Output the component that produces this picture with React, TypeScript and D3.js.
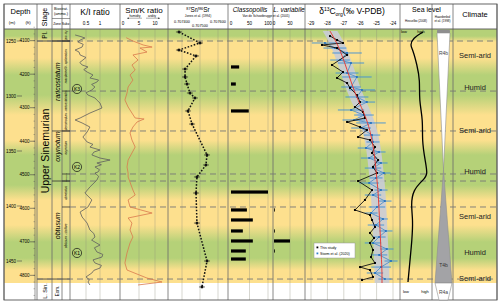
import React from 'react';
import * as d3 from 'd3';

// ---- data (depth in m) ----
const depthTicksM = [1250, 1300, 1350, 1400, 1450];
const depthTicksFt = [4100, 4200, 4300, 4400, 4500, 4600, 4700, 4800];

const kiDepth = [1244.5, 1246, 1247.3, 1249, 1250.9, 1253, 1255.5, 1258.2, 1260, 1262.7, 1265, 1267.3, 1269.5, 1271.8, 1273.6, 1276, 1278.2, 1280.9, 1283.6, 1285.5, 1287.3, 1289.5, 1291.8, 1294.5, 1297, 1299.1, 1301.8, 1304, 1306.4, 1310.9, 1315.5, 1320, 1321.8, 1324.5, 1328.2, 1332.7, 1337.3, 1341.8, 1344, 1346.4, 1349.1, 1351, 1353.6, 1356.4, 1358.2, 1360.9, 1362.5, 1364.5, 1367, 1369.1, 1370, 1373, 1376.4, 1382.7, 1388.2, 1394.5, 1400.9, 1405.5, 1410, 1415.5, 1421.8, 1425, 1428.2, 1431, 1435.5, 1438, 1441.8, 1444, 1446.4, 1449, 1451.8, 1454, 1456.4, 1458.5, 1460.9, 1464.5, 1467, 1469.1, 1471.8];
const kiValue = [0.11, 0.32, 0.46, 0.3, 0.21, 0.4, 0.36, 0.11, 0.25, 0.29, 0.5, 0.39, 0.28, 0.36, 0.57, 0.42, 0.54, 0.75, 0.64, 0.95, 0.89, 0.7, 0.82, 0.71, 0.5, 0.57, 0.82, 0.9, 1.0, 1.07, 0.64, 0.29, 0.11, 0.36, 0.64, 0.54, 0.39, 0.54, 0.75, 0.64, 1.0, 0.78, 0.71, 1.0, 1.36, 0.89, 1.05, 0.82, 0.98, 0.93, 0.82, 0.95, 0.89, 0.64, 0.46, 0.71, 0.57, 0.29, 0.36, 0.54, 0.64, 0.78, 0.82, 0.7, 1.0, 0.8, 0.89, 1.1, 1.07, 0.75, 0.82, 1.05, 1.0, 0.78, 0.71, 0.5, 0.62, 0.57, 0.64];

const smkDepth = [1247, 1250, 1253.6, 1255.5, 1256.4, 1260, 1262.7, 1267.3, 1271.8, 1276.4, 1280.9, 1285.5, 1291.8, 1297.3, 1303.6, 1310, 1315.5, 1320, 1320.9, 1323.6, 1328.2, 1333.6, 1340, 1346.4, 1351.8, 1358.2, 1364.5, 1370, 1373.6, 1385.5, 1390, 1394.5, 1400.9, 1406.4, 1410.9, 1415.5, 1421.8, 1428.2, 1433.6, 1442.7, 1451.8, 1458.2, 1465.5, 1469.1, 1471.8];
const smkValue = [1.0, 3.1, 6.3, 9.1, 5.3, 7.5, 3.1, 4.7, 2.8, 3.8, 2.2, 3.1, 1.6, 1.25, 0.6, 1.6, 2.8, 3.8, 6.6, 4.4, 3.1, 2.2, 2.8, 3.8, 2.8, 1.6, 1.25, 1.6, 1.6, 3.1, 3.8, 1.6, 2.2, 9.1, 1.6, 2.8, 2.2, 3.1, 2.2, 1.25, 0.6, 1.25, 7.5, 12.2, 4.7];

const srDepth = [1241.8, 1251.8, 1258.2, 1263.6, 1275.5, 1282.7, 1289.1, 1297.3, 1301.8, 1313.6, 1325.5, 1353.6, 1362.7, 1373.6, 1388.2, 1415.5, 1450, 1473.6];
const srValue = [0.707383, 0.7075, 0.707383, 0.707478, 0.707417, 0.707417, 0.707428, 0.707444, 0.707472, 0.707433, 0.707456, 0.707539, 0.707533, 0.707483, 0.707478, 0.707483, 0.707539, 0.707511];

const classoDepth = [1273.6, 1289.1, 1313.6, 1387.3, 1403.6, 1412.7, 1422.7, 1431.8, 1440.9, 1448.2];
const classoValue = [22, 13, 48, 100, 43, 59, 32, 59, 40, 40];
const lvarDepth = [1403.6, 1422.7, 1431.8, 1440.9];
const lvarValue = [2, 2, 50, 2];

const d13Depth = [1245.5, 1249.1, 1251.8, 1253.6, 1256.4, 1262.7, 1271.8, 1278.2, 1283.6, 1288.2, 1292.7, 1299.1, 1305.5, 1310, 1314.5, 1320, 1323.6, 1328.2, 1330.9, 1337.3, 1340, 1346.4, 1351.8, 1358.2, 1364.5, 1370, 1377.3, 1385.5, 1394.5, 1403.6, 1408.2, 1412.7, 1419.1, 1424.5, 1429.1, 1433.6, 1440, 1446.4, 1451.8, 1455.5, 1458.2, 1464.5, 1467.3];
const d13Value = [-27.84, -27.41, -27.05, -28.33, -27.41, -26.8, -27.72, -27.05, -27.41, -26.8, -26.62, -26.2, -26.01, -26.32, -25.83, -25.71, -26.8, -26.01, -25.59, -26.13, -25.4, -25.1, -25.28, -24.91, -25.22, -24.98, -26.13, -25.28, -25.71, -26.32, -25.4, -25.28, -25.1, -25.4, -25.16, -25.4, -25.22, -25.34, -25.1, -26.01, -25.4, -25.22, -25.89];

const stormDepth = [1251.8, 1256.4, 1260.9, 1267.3, 1270, 1279.1, 1282.7, 1291.8, 1294.5, 1300.9, 1305.5, 1312.7, 1317.3, 1321.8, 1324.5, 1329.1, 1335.5, 1341.8, 1347.3, 1350.9, 1356.4, 1360.9, 1365.5, 1370, 1374.5, 1379.1, 1385.5, 1390, 1395.5, 1400.9, 1406.4, 1411.8, 1417.3, 1422.7, 1428.2, 1433.6, 1439.1, 1444.5, 1450, 1455.5, 1460.9, 1466.4];
const stormValue = [-28.15, -27.54, -26.8, -27.23, -26.56, -26.8, -26.2, -26.56, -25.89, -26.2, -25.59, -26.56, -25.77, -26.38, -25.34, -25.95, -25.28, -25.22, -25.65, -24.85, -25.46, -24.73, -25.22, -24.55, -25.04, -25.46, -24.73, -25.22, -24.49, -24.98, -25.34, -24.61, -25.04, -24.43, -24.85, -25.22, -24.37, -24.85, -24.12, -24.73, -25.1, -24.49];
const stormErr = [0.8, 0.7, 0.9, 0.6, 0.8, 0.7, 0.9, 0.6, 0.8, 0.7, 0.5, 0.8, 0.6, 0.7, 0.9, 0.6, 0.5, 0.4, 0.5, 0.4, 0.5, 0.4, 0.5, 0.4, 0.4, 0.6, 0.4, 0.5, 0.4, 0.5, 0.4, 0.3, 0.5, 0.4, 0.4, 0.5, 0.4, 0.5, 0.4, 0.6, 0.5, 0.4];

const smoothDepth = [1241, 1252, 1263, 1276, 1290, 1304, 1317, 1331, 1349, 1367, 1385, 1404, 1422, 1440, 1458, 1470];
const smoothValue = [-27.84, -27.41, -27.11, -26.8, -26.5, -26.13, -25.71, -25.4, -25.16, -25.04, -24.91, -24.85, -24.79, -24.73, -24.67, -24.67];

const seaDepth = [1241.8, 1247.3, 1253.6, 1258.2, 1271.8, 1285.5, 1303.6, 1321.8, 1340, 1358.2, 1371.8, 1376.4, 1385.5, 1399.1, 1412.7, 1430.9, 1449.1, 1469.1];
const seaValue = [0.8, 0.4, 0.28, 0.4, 0.56, 0.68, 0.64, 0.8, 0.76, 0.88, 1.0, 0.8, 0.4, 0.32, 0.4, 0.36, 0.28, 0.2];

const zoneNames = ['raricostatum', 'oxynotum', 'obtusum'];
const zoneLabelDepth = [1287, 1346, 1418];
const zoneTop = [1250, 1331.8, 1377.3];
const subzoneNames = ['macdonnelli - aplanatum', 'densinodum - raricostatoides', 'oxynotum', 'simpsoni', 'denotatus', 'obtusum - stellare'];
const subzoneLabelDepth = [1273, 1313, 1347, 1374, 1388, 1427];
const subzoneTop = [1250, 1295.5, 1331.8, 1370.9, 1377.3, 1400.9];
const dashedDepths = [1250, 1295.5, 1331.8, 1370.9, 1377.3, 1400.9, 1466.4];

const climateLabels = ['Semi-arid', 'Humid', 'Semi-arid', 'Humid', 'Semi-arid', 'Humid', 'Semi-arid'];
const climateDepth = [1263.6, 1292.7, 1331.8, 1368.2, 1409.1, 1442.7, 1465.5];
const bandDepth = [1239, 1245.5, 1250.9, 1265.5, 1280.9, 1299.1, 1317.3, 1340, 1353.6, 1380.9, 1394.5, 1417.3, 1432.7, 1447.3, 1458.2, 1470];
const bandType = ['h', 'h', 'a', 'a', 'h', 'h', 'a', 'a', 'h', 'h', 'a', 'a', 'h', 'h', 'a', 'a'];

const kLabels = ['K3', 'K2', 'K1'];
const kDepth = [1293.6, 1364.5, 1442.7];

const FONT = 'Liberation Sans, Arial, sans-serif';
const TOP = 29, BOT = 283, FOOT = 300, L = 4, R = 497;

const App: React.FC = () => {
  const y = d3.scaleLinear().domain([1250, 1450]).range([41, 261]);
  const yFt = (ft: number) => y(ft * 0.3048);
  const xKI = d3.scaleLinear().domain([0, 1]).range([72, 100]);
  const xSm = d3.scaleLinear().domain([0, 10]).range([123, 155]);
  const xSr = d3.scaleLinear().domain([0.7074, 0.7076]).range([182, 218]);
  const xCl = d3.scaleLinear().domain([0, 100]).range([231, 268]);
  const xLv = d3.scaleLinear().domain([0, 50]).range([274, 290]);
  const xC = d3.scaleLinear().domain([-29, -24]).range([311, 393]);
  const xSea = d3.scaleLinear().domain([0, 1]).range([403, 428]);

  const line = (xs: d3.ScaleLinear<number, number>, ds: number[], vs: number[], curve = d3.curveLinear) =>
    d3.line<number>().x((_, i) => xs(vs[i])).y((d) => y(d)).curve(curve)(ds) || '';

  const colLines = [L, 37, 52, 62, 70, 120, 168, 228, 273, 305, 400, 432, 453, R];
  const grid = [
    ...[0.5, 1].map((v) => xKI(v)),
    ...[5, 10].map((v) => xSm(v)),
    ...[0.7074, 0.7075, 0.7076].map((v) => xSr(v)),
    ...[50, 100].map((v) => xCl(v)),
    ...[50].map((v) => xLv(v)),
    ...[-29, -28, -27, -26, -25, -24].map((v) => xC(v)),
  ];
  const yellow = '#fde08e';
  const green = '#b5d178';

  const areaBand = d3.area<number>()
    .y((d) => y(d))
    .x0((_, i) => xC(smoothValue[i] - 0.45))
    .x1((_, i) => xC(smoothValue[i] + 0.45))
    .curve(d3.curveBasis)(smoothDepth) || '';

  const rot = (x: number, yy: number, txt: string, size: number, extra: any = {}) => (
    <text transform={`translate(${x},${yy}) rotate(-90)`} textAnchor="middle" dominantBaseline="central" fontSize={size} {...extra}>{txt}</text>
  );

  const tickTxt = (x: number, yy: number, t: string) => (
    <text key={t + x} x={x} y={yy} fontSize={4.6} textAnchor="middle">{t}</text>
  );

  const ftMinor = d3.range(4060, 4861, 20);

  return (
    <svg width={500} height={305} style={{ position: 'absolute', left: 0, top: 0, background: '#fff' }} fontFamily={FONT}>
      <defs>
        <linearGradient id="bands" gradientUnits="userSpaceOnUse" x1={0} x2={0} y1={TOP} y2={BOT}>
          {bandDepth.map((d, i) => (
            <stop key={i} offset={(y(d) - TOP) / (BOT - TOP)} stopColor={bandType[i] === 'a' ? yellow : green} />
          ))}
        </linearGradient>
      </defs>
      <rect x={L} y={TOP} width={R - L} height={BOT - TOP} fill="url(#bands)" />

      {/* grid */}
      {grid.map((gx, i) => (
        <line key={'g' + i} x1={gx} x2={gx} y1={TOP} y2={FOOT} stroke="#8c8c7c" strokeOpacity={0.45} strokeWidth={0.8} />
      ))}
      {colLines.map((cx, i) => (
        <line key={'c' + i} x1={cx} x2={cx} y1={4} y2={FOOT} stroke="#6b6b6b" strokeWidth={0.8} />
      ))}

      {/* frame */}
      <rect x={L} y={4} width={R - L} height={FOOT - 4} fill="none" stroke="#555" strokeWidth={0.9} />
      <line x1={L} x2={R} y1={TOP} y2={TOP} stroke="#555" strokeWidth={0.9} />
      <line x1={37} x2={70} y1={y(1466.4)} y2={y(1466.4)} stroke="#333" strokeWidth={0.8} />
      <line x1={37} x2={70} y1={y(1250)} y2={y(1250)} stroke="#333" strokeWidth={0.8} />

      {/* dashed boundaries */}
      {dashedDepths.map((d, i) => (
        <line key={'d' + i} x1={i === 0 || i === 6 ? 37 : 70} x2={R} y1={y(d)} y2={y(d)} stroke="#777" strokeWidth={0.9} strokeDasharray="6,4" />
      ))}
      {zoneTop.map((d, i) => (
        <line key={'z' + i} x1={52} x2={70} y1={y(d)} y2={y(d)} stroke="#333" strokeWidth={0.8} />
      ))}
      {subzoneTop.map((d, i) => (
        <line key={'s' + i} x1={62} x2={70} y1={y(d)} y2={y(d)} stroke="#333" strokeWidth={0.8} />
      ))}

      {/* depth axes */}
      {depthTicksM.map((d) => (
        <g key={'m' + d}>
          <line x1={17} x2={22} y1={y(d)} y2={y(d)} stroke="#444" strokeWidth={0.6} />
          <text x={11} y={y(d)} fontSize={4.6} textAnchor="middle" dominantBaseline="central">{d}</text>
        </g>
      ))}
      <line x1={35} x2={35} y1={TOP} y2={FOOT} stroke="#555" strokeWidth={0.6} />
      {ftMinor.map((f) => (
        <line key={'fm' + f} x1={33.5} x2={35} y1={yFt(f)} y2={yFt(f)} stroke="#555" strokeWidth={0.4} />
      ))}
      {depthTicksFt.map((f) => (
        <g key={'f' + f}>
          <line x1={30} x2={35} y1={yFt(f)} y2={yFt(f)} stroke="#444" strokeWidth={0.6} />
          <text x={24.5} y={yFt(f)} fontSize={4.6} textAnchor="middle" dominantBaseline="central">{f}</text>
        </g>
      ))}

      {/* stage & zones */}
      {rot(44.5, 35, 'Pl.', 6.5)}
      {rot(44.5, 151, 'Upper Sinemurian', 10.5)}
      {rot(44.5, 291, 'L. Sin.', 5.5)}
      {zoneNames.map((n, i) => rot(57, y(zoneLabelDepth[i]), n, 7, { fontStyle: 'italic', key: 'zn' + i }))}
      {rot(57, 291, 'Eom.', 4.5)}
      {subzoneNames.map((n, i) => rot(66, y(subzoneLabelDepth[i]), n, n === 'simpsoni' ? 2.2 : 3.1, { fontStyle: 'italic', key: 'sz' + i }))}
      {rot(66, 35, 'jam.-tay.', 2.6, { fontStyle: 'italic' })}

      {/* K/I */}
      <path d={line(xKI, kiDepth, kiValue)} fill="none" stroke="#5e5e5e" strokeWidth={0.8} />
      {kLabels.map((k, i) => (
        <g key={k}>
          <circle cx={77} cy={y(kDepth[i])} r={4.6} fill="none" stroke="#111" strokeWidth={0.7} />
          <text x={77} y={y(kDepth[i])} fontSize={5} textAnchor="middle" dominantBaseline="central">{k}</text>
        </g>
      ))}

      {/* Sm/K */}
      <path d={line(xSm, smkDepth, smkValue)} fill="none" stroke="#d9794d" strokeWidth={0.8} />

      {/* Sr */}
      <path d={line(xSr, srDepth, srValue)} fill="none" stroke="#111" strokeWidth={1.5} strokeDasharray="1.6,1.6" />
      {srDepth.map((d, i) => (
        <g key={'sr' + i}>
          <line x1={xSr(srValue[i]) - 3} x2={xSr(srValue[i]) + 3} y1={y(d)} y2={y(d)} stroke="#111" strokeWidth={0.6} />
          <line x1={xSr(srValue[i])} x2={xSr(srValue[i])} y1={y(d) - 1.5} y2={y(d) + 1.5} stroke="#111" strokeWidth={0.6} />
          <rect x={xSr(srValue[i]) - 1.2} y={y(d) - 1.2} width={2.4} height={2.4} fill="#111" />
        </g>
      ))}

      {/* Classopollis / L. variabile */}
      {classoDepth.map((d, i) => (
        <rect key={'cl' + i} x={xCl(0)} y={y(d) - 1.6} width={xCl(classoValue[i]) - xCl(0)} height={3.2} fill="#000" />
      ))}
      {lvarDepth.map((d, i) => (
        <rect key={'lv' + i} x={xLv(0)} y={y(d) - 1.6} width={Math.max(0.8, xLv(lvarValue[i]) - xLv(0))} height={3.2} fill="#000" />
      ))}

      {/* d13C */}
      <path d={areaBand} fill="#c9ccd6" fillOpacity={0.9} />
      {stormDepth.map((d, i) => (
        <line key={'se' + i} x1={xC(stormValue[i] - stormErr[i])} x2={xC(stormValue[i] + stormErr[i])} y1={y(d)} y2={y(d)} stroke="#3d8fd6" strokeWidth={0.9} />
      ))}
      <path d={line(xC, stormDepth, stormValue)} fill="none" stroke="#2f7fc8" strokeWidth={0.7} />
      {stormDepth.map((d, i) => (
        <circle key={'sp' + i} cx={xC(stormValue[i])} cy={y(d)} r={1} fill="#1f6fbf" />
      ))}
      <path d={line(xC, d13Depth, d13Value)} fill="none" stroke="#111" strokeWidth={0.9} />
      {d13Depth.map((d, i) => (
        <rect key={'dp' + i} x={xC(d13Value[i]) - 1} y={y(d) - 1} width={2} height={2} fill="#000" />
      ))}
      <path d={line(xC, smoothDepth, smoothValue, d3.curveBasis)} fill="none" stroke="#e8302a" strokeWidth={0.9} />
      <g>
        <rect x={314} y={243} width={41} height={15} fill="#fff" stroke="#999" strokeWidth={0.5} />
        <rect x={316.5} y={246.5} width={1.8} height={1.8} fill="#000" />
        <text x={320} y={248} fontSize={3.6} dominantBaseline="central">This study</text>
        <rect x={316.5} y={252.5} width={1.8} height={1.8} fill="#2f7fc8" />
        <text x={320} y={254} fontSize={3.6} dominantBaseline="central">Storm et al. (2020)</text>
      </g>

      {/* sea level */}
      <path d={line(xSea, seaDepth, seaValue, d3.curveBasis)} fill="none" stroke="#000" strokeWidth={1.3} />
      <text x={404} y={33} fontSize={4} textAnchor="middle">low</text>
      <text x={421} y={33} fontSize={4} textAnchor="middle">high</text>
      <text x={406} y={293} fontSize={4} textAnchor="middle">low</text>
      <text x={425} y={293} fontSize={4} textAnchor="middle">high</text>

      {/* Haardenbol sequences */}
      <rect x={437} y={29.5} width={13} height={4} rx={1.5} fill="#8e8e8e" />
      <path d={`M437,${y(1242.7)} L450,${y(1242.7)} L443.5,${y(1367)} Z`} fill="#fff" stroke="#8e8e8e" strokeWidth={0.6} />
      <path d={`M443.5,${y(1367)} L452,${BOT} L435,${BOT} Z`} fill="#a3a3a6" stroke="#8e8e8e" strokeWidth={0.6} />
      <path d={`M435,${BOT} L452,${BOT} L448,${FOOT} L439,${FOOT} Z`} fill="#fff" stroke="#8e8e8e" strokeWidth={0.6} />
      <text x={443.5} y={55} fontSize={5} textAnchor="middle" fill="#444">R4b</text>
      <text x={443.5} y={267} fontSize={5} textAnchor="middle" fill="#333">T4b</text>
      <text x={443.5} y={294} fontSize={5} textAnchor="middle" fill="#444">R4a</text>

      {/* climate */}
      {climateLabels.map((c, i) => (
        <text key={'cl' + i} x={475} y={y(climateDepth[i])} fontSize={7.5} textAnchor="middle" dominantBaseline="central" fill="#222">{c}</text>
      ))}

      {/* header */}
      <text x={20.5} y={14} fontSize={7.5} textAnchor="middle">Depth</text>
      <text x={12} y={24} fontSize={4.3} textAnchor="middle">(m)</text>
      <text x={28} y={24} fontSize={4.3} textAnchor="middle">(ft)</text>
      {rot(44.5, 17, 'Stage', 7)}
      <text x={61} y={9.5} fontSize={3.8} textAnchor="middle">Biostrat.</text>
      <text x={61} y={14.5} fontSize={3.8} textAnchor="middle">(ammo.)</text>
      <line x1={52} x2={70} y1={18.5} y2={18.5} stroke="#555" strokeWidth={0.6} />
      <text x={57} y={24.5} fontSize={3.4} textAnchor="middle">Zone</text>
      <text x={66} y={24.5} fontSize={3.4} textAnchor="middle">Subz.</text>
      <text x={95} y={15} fontSize={8.5} textAnchor="middle">K/I ratio</text>
      {tickTxt(xKI(0.5), 24.5, '0.5')}
      {tickTxt(xKI(1), 24.5, '1')}
      <text x={144} y={12.5} fontSize={8} textAnchor="middle">Sm/K ratio</text>
      <text x={135} y={17} fontSize={3} textAnchor="middle">humidity</text>
      <text x={152} y={17} fontSize={3} textAnchor="middle">aridity</text>
      <line x1={127} x2={142} y1={18.2} y2={18.2} stroke="#333" strokeWidth={0.4} />
      <path d="M127,18.2 l2,-0.8 v1.6 z" fill="#333" />
      <line x1={146} x2={160} y1={18.2} y2={18.2} stroke="#333" strokeWidth={0.4} />
      <path d="M160,18.2 l-2,-0.8 v1.6 z" fill="#333" />
      {tickTxt(xSm(0), 24.5, '0')}
      {tickTxt(xSm(5), 24.5, '5')}
      {tickTxt(xSm(10), 24.5, '10')}
      <text x={198} y={12} fontSize={6.5} textAnchor="middle">
        <tspan fontSize={3.8} dy={-2}>87</tspan><tspan dy={2}>Sr/</tspan><tspan fontSize={3.8} dy={-2}>86</tspan><tspan dy={2}>Sr</tspan>
      </text>
      <text x={198} y={17} fontSize={3.2} textAnchor="middle">Jones et al. (1994)</text>
      <text x={xSr(0.7074)} y={22.5} fontSize={3.8} textAnchor="middle">0.707400</text>
      <text x={xSr(0.7075)} y={27} fontSize={3.8} textAnchor="middle">0.707500</text>
      <text x={xSr(0.7076)} y={22.5} fontSize={3.8} textAnchor="middle">0.707600</text>
      <text x={250} y={12} fontSize={6.5} fontStyle="italic" textAnchor="middle">Classopollis</text>
      <text x={266} y={17} fontSize={3.1} textAnchor="middle">Van de Schootbrugge et al. (2005)</text>
      <text x={289} y={12} fontSize={6.5} fontStyle="italic" textAnchor="middle">L. variabile</text>
      {tickTxt(xCl(0), 24.5, '0')}
      {tickTxt(xCl(50), 24.5, '50')}
      {tickTxt(xCl(100), 24.5, '100')}
      {tickTxt(xLv(0), 24.5, '0')}
      {tickTxt(xLv(50), 24.5, '50')}
      <text x={352} y={14} fontSize={8.5} textAnchor="middle">
        δ<tspan fontSize={5} dy={-3}>13</tspan><tspan dy={3}>C</tspan><tspan fontSize={5} dy={2}>org</tspan><tspan dy={-2}>(‰ V-PDB)</tspan>
      </text>
      {[-29, -28, -27, -26, -25, -24].map((v) => tickTxt(xC(v), 24.5, String(v)))}
      <text x={426.5} y={12} fontSize={7} textAnchor="middle">Sea level</text>
      <text x={416} y={22} fontSize={3} textAnchor="middle">Hesselbo (2008)</text>
      <text x={442.5} y={18} fontSize={3} textAnchor="middle">Haardenbol</text>
      <text x={442.5} y={22} fontSize={3} textAnchor="middle">et al. (1998)</text>
      <text x={475} y={17} fontSize={7.5} textAnchor="middle">Climate</text>
    </svg>
  );
};

export default App;
